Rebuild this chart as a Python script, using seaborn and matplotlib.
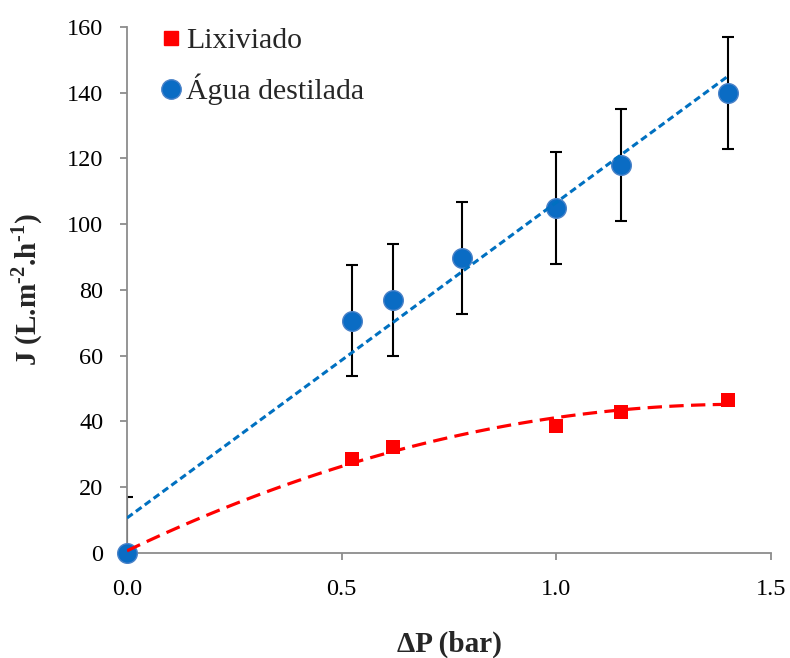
import numpy as np
import pandas as pd
import matplotlib
matplotlib.use("Agg")
import matplotlib.pyplot as plt
import seaborn as sns
from matplotlib.lines import Line2D

# Data
dp_agua = [0.0, 0.525, 0.62, 0.78, 1.0, 1.15, 1.40]
j_agua = [0.0, 70.7, 77.0, 89.7, 105.0, 118.0, 139.8]
err_agua = [17, 17, 17, 17, 17, 17, 17]
dp_lix = [0.0, 0.525, 0.62, 1.0, 1.15, 1.40]
j_lix = [0.0, 28.6, 32.2, 38.6, 42.9, 46.5]

x_ticks = [0.0, 0.5, 1.0, 1.5]
y_ticks = [0, 20, 40, 60, 80, 100, 120, 140, 160]

sns.set_theme(style="ticks")
plt.rcParams['font.family'] = ['Liberation Serif', 'DejaVu Serif']
plt.rcParams['mathtext.fontset'] = 'custom'
plt.rcParams['mathtext.rm'] = 'Liberation Serif:bold'
plt.rcParams['mathtext.bf'] = 'Liberation Serif:bold'

df_a = pd.DataFrame({"dp": dp_agua, "j": j_agua, "err": err_agua})
df_l = pd.DataFrame({"dp": dp_lix, "j": j_lix})

fig = plt.figure(figsize=(7.9, 6.58), dpi=100)
ax = fig.add_axes([0.1608, 0.1596, 0.976 - 0.1608, 0.959 - 0.1596])

blue = '#0A6CC4'
red = '#FF0000'

# error bars
ax.errorbar(df_a["dp"], df_a["j"], yerr=df_a["err"], fmt='none', ecolor='black',
            elinewidth=1.5, capsize=4.3, capthick=1.5, zorder=2, clip_on=True)

# markers
sns.scatterplot(data=df_l, x="dp", y="j", marker='s', s=105, color=red,
                edgecolor=red, linewidth=0, ax=ax, zorder=3, clip_on=False)
sns.scatterplot(data=df_a, x="dp", y="j", marker='o', s=200, color=blue,
                edgecolor='#4A82C8', linewidth=1.0, ax=ax, zorder=4, clip_on=False)

# trendlines
sns.regplot(data=df_a, x="dp", y="j", scatter=False, ci=None, ax=ax, truncate=True,
            line_kws=dict(color='#0070C0', lw=2.2, ls=(0, (2.3, 1.3)), zorder=5))
sns.regplot(data=df_l, x="dp", y="j", scatter=False, ci=None, order=2, ax=ax, truncate=True,
            line_kws=dict(color=red, lw=2.3, ls=(0, (4.5, 2.3)), zorder=5))

ax.set_xlim(0, 1.5)
ax.set_ylim(0, 160)
ax.set_xticks(x_ticks)
ax.set_xticklabels([f"{v:.1f}" for v in x_ticks])
ax.set_yticks(y_ticks)
ax.set_yticklabels([str(v) for v in y_ticks])

for s in ['top', 'right']:
    ax.spines[s].set_visible(False)
for s in ['left', 'bottom']:
    ax.spines[s].set_color('#8C8C8C')
    ax.spines[s].set_linewidth(1.3)
ax.tick_params(axis='y', direction='out', length=5, width=1.3, color='#8C8C8C',
               labelsize=17.5, labelcolor='black', pad=12)
ax.tick_params(axis='x', direction='out', length=5, width=1.3, color='#8C8C8C',
               labelsize=17.5, labelcolor='black', pad=14)

ax.set_xlabel("ΔP (bar)", fontsize=21, fontweight='bold', labelpad=22)
ax.set_ylabel(r"J (L.m$^{\text{-2}}$.h$^{\text{-1}}$)", fontsize=21, fontweight='bold', labelpad=16)

handles = [
    Line2D([], [], marker='s', color=red, ls='none', markersize=10),
    Line2D([], [], marker='o', color=blue, markeredgecolor='#4A82C8', ls='none', markersize=14),
]
ax.legend(handles, ["Lixiviado", "Água destilada"], loc='upper left',
          bbox_to_anchor=(0.004, 1.05), frameon=False, fontsize=21.5,
          handletextpad=0.0, labelspacing=0.65, handlelength=1.0)

fig.savefig("out.png", dpi=100)
